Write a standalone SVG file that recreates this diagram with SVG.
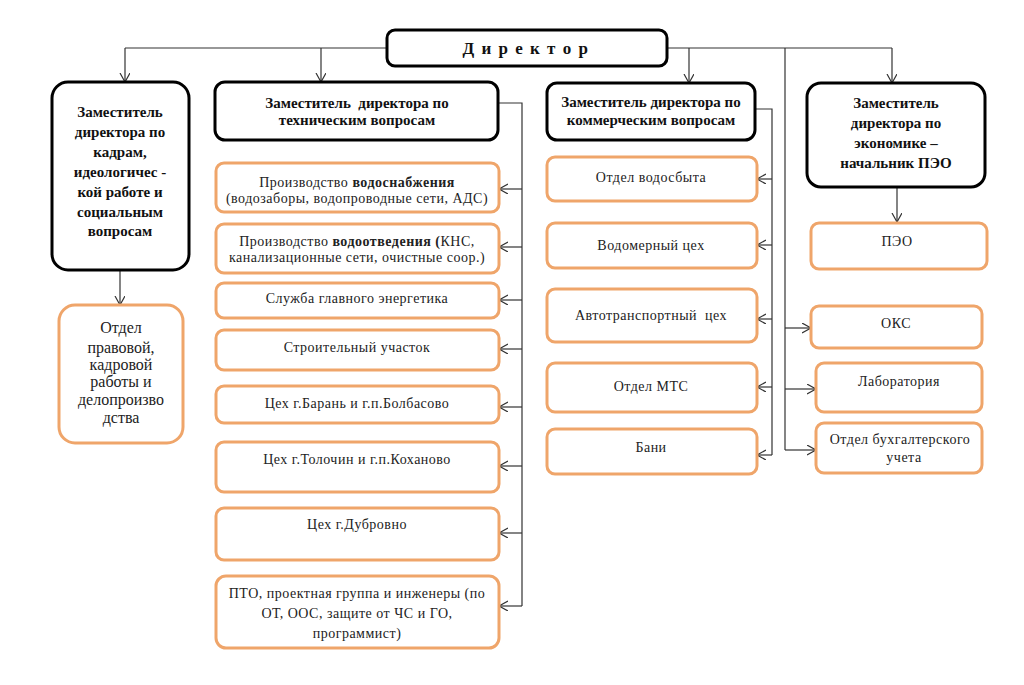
<svg xmlns="http://www.w3.org/2000/svg" width="1024" height="685" viewBox="0 0 1024 685">
<defs>
<marker id="arr" markerWidth="12" markerHeight="12" refX="9" refY="5" orient="auto" markerUnits="userSpaceOnUse">
<path d="M0,0 L9,5 L0,10" fill="none" stroke="#333" stroke-width="1.2"/>
</marker>
<style>
.head{fill:#fff;stroke:#000;stroke-width:3}
.sub{fill:#fff;stroke:#EFA56A;stroke-width:3}
text{font-family:"Liberation Serif","Times New Roman",serif}
.ht{font-weight:bold;font-size:15px;fill:#111;text-anchor:middle}
.st{font-size:14px;letter-spacing:0.5px;fill:#222;text-anchor:middle}
.lt{font-size:16px;fill:#222;text-anchor:middle}
.c{fill:none;stroke:#333;stroke-width:1.2}
.ca{fill:none;stroke:#333;stroke-width:1.2;marker-end:url(#arr)}
</style>
</defs>
<rect width="1024" height="685" fill="#fff"/>

<g id="connectors">
<path class="c" d="M387,48 H125"/>
<path class="ca" d="M125,48 V82"/>
<path class="ca" d="M321,48 V82"/>
<path class="c" d="M667,48 H892"/>
<path class="ca" d="M689,48 V83"/>
<path class="ca" d="M892,48 V83"/>
<path class="ca" d="M120,270 V305"/>
<path class="c" d="M498,103 H522 V606"/>
<path class="ca" d="M522,189 H499"/>
<path class="ca" d="M522,247 H499"/>
<path class="ca" d="M522,300 H499"/>
<path class="ca" d="M522,349 H499"/>
<path class="ca" d="M522,407 H499"/>
<path class="ca" d="M522,466 H499"/>
<path class="ca" d="M522,533 H499"/>
<path class="ca" d="M522,606 H499"/>
<path class="c" d="M755,109 H772 V455"/>
<path class="ca" d="M772,179 H757"/>
<path class="ca" d="M772,245 H757"/>
<path class="ca" d="M772,319 H757"/>
<path class="ca" d="M772,387 H757"/>
<path class="ca" d="M772,455 H757"/>
<path class="ca" d="M897,187 V222"/>
<path class="c" d="M785,48 V450"/>
<path class="ca" d="M785,328 H811"/>
<path class="ca" d="M785,389 H816"/>
<path class="ca" d="M785,450 H816"/>
</g>

<g id="director">
<rect class="head" x="387" y="30" width="280" height="36" rx="8"/>
<text x="526" y="54" font-weight="bold" font-size="17" text-anchor="middle" letter-spacing="1.5" fill="#111">Д и р е к т о р</text>
</g>

<g id="dep-hr">
<rect class="head" x="52" y="82" width="137" height="188" rx="16"/>
<text class="ht"><tspan x="120" y="117">Заместитель</tspan><tspan x="120" y="137">директора по</tspan><tspan x="120" y="157">кадрам,</tspan><tspan x="120" y="177">идеологичес -</tspan><tspan x="120" y="197">кой работе и</tspan><tspan x="120" y="217">социальным</tspan><tspan x="120" y="236">вопросам</tspan></text>
</g>

<g id="dep-tech">
<rect class="head" x="215" y="82" width="283" height="58" rx="10"/>
<text class="ht" font-size="15.5" xml:space="preserve"><tspan x="357" y="108">Заместитель  директора по</tspan><tspan x="357" y="125">техническим вопросам</tspan></text>
</g>

<g id="dep-com">
<rect class="head" x="547" y="83" width="208" height="57" rx="10"/>
<text class="ht"><tspan x="651" y="107">Заместитель директора по</tspan><tspan x="651" y="125">коммерческим вопросам</tspan></text>
</g>

<g id="dep-eco">
<rect class="head" x="807" y="83" width="178" height="104" rx="14"/>
<text class="ht"><tspan x="896" y="108">Заместитель</tspan><tspan x="896" y="128">директора по</tspan><tspan x="896" y="148">экономике –</tspan><tspan x="896" y="168">начальник ПЭО</tspan></text>
</g>

<g id="hr-legal">
<rect class="sub" x="59" y="305" width="124" height="138" rx="16"/>
<text class="lt"><tspan x="121" y="333">Отдел</tspan><tspan x="121" y="353">правовой,</tspan><tspan x="121" y="370">кадровой</tspan><tspan x="121" y="387">работы и</tspan><tspan x="121" y="405">делопроизво</tspan><tspan x="121" y="423">дства</tspan></text>
</g>

<g id="tech-water">
<rect class="sub" x="216" y="163" width="283" height="49" rx="8"/>
<text class="st"><tspan x="357" y="187">Производство <tspan font-weight="bold">водоснабжения</tspan></tspan><tspan x="357" y="203">(водозаборы, водопроводные сети, АДС)</tspan></text>
</g>
<g id="tech-sewer">
<rect class="sub" x="216" y="224" width="283" height="49" rx="8"/>
<text class="st"><tspan x="357" y="246">Производство <tspan font-weight="bold">водоотведения (</tspan>КНС,</tspan><tspan x="357" y="262">канализационные сети, очистные соор.)</tspan></text>
</g>
<g id="tech-energy">
<rect class="sub" x="216" y="283" width="283" height="35" rx="8"/>
<text class="st" x="357" y="303">Служба главного энергетика</text>
</g>
<g id="tech-build">
<rect class="sub" x="216" y="330" width="283" height="40" rx="8"/>
<text class="st" x="357" y="352">Строительный участок</text>
</g>
<g id="tech-baran">
<rect class="sub" x="216" y="386" width="283" height="37" rx="8"/>
<text class="st" x="357" y="408">Цех г.Барань и г.п.Болбасово</text>
</g>
<g id="tech-tolochin">
<rect class="sub" x="216" y="442" width="283" height="50" rx="8"/>
<text class="st" x="357" y="464">Цех г.Толочин и г.п.Коханово</text>
</g>
<g id="tech-dubrovno">
<rect class="sub" x="216" y="508" width="283" height="52" rx="8"/>
<text class="st" x="357" y="529">Цех г.Дубровно</text>
</g>
<g id="tech-pto">
<rect class="sub" x="216" y="576" width="283" height="72" rx="10"/>
<text class="st"><tspan x="357" y="598">ПТО, проектная группа и инженеры (по</tspan><tspan x="357" y="618">ОТ, ООС, защите от ЧС и ГО,</tspan><tspan x="357" y="638">программист)</tspan></text>
</g>

<g id="com-sales">
<rect class="sub" x="547" y="157" width="210" height="44" rx="8"/>
<text class="st" x="651" y="182">Отдел водосбыта</text>
</g>
<g id="com-meter">
<rect class="sub" x="547" y="223" width="210" height="45" rx="8"/>
<text class="st" x="651" y="250">Водомерный цех</text>
</g>
<g id="com-auto">
<rect class="sub" x="547" y="289" width="210" height="53" rx="8"/>
<text class="st" x="651" y="320" xml:space="preserve">Автотранспортный  цех</text>
</g>
<g id="com-mts">
<rect class="sub" x="547" y="363" width="210" height="49" rx="8"/>
<text class="st" x="651" y="391">Отдел МТС</text>
</g>
<g id="com-bath">
<rect class="sub" x="547" y="429" width="210" height="45" rx="8"/>
<text class="st" x="651" y="452">Бани</text>
</g>

<g id="eco-peo">
<rect class="sub" x="811" y="223" width="176" height="46" rx="8"/>
<text class="st" x="897" y="246">ПЭО</text>
</g>
<g id="eco-oks">
<rect class="sub" x="811" y="306" width="171" height="42" rx="8"/>
<text class="st" x="896" y="328">ОКС</text>
</g>
<g id="eco-lab">
<rect class="sub" x="816" y="363" width="166" height="49" rx="8"/>
<text class="st" x="899" y="386">Лаборатория</text>
</g>
<g id="eco-acc">
<rect class="sub" x="816" y="423" width="166" height="50" rx="8"/>
<text class="st"><tspan x="900" y="444">Отдел бухгалтерского</tspan><tspan x="904" y="462">учета</tspan></text>
</g>
</svg>
